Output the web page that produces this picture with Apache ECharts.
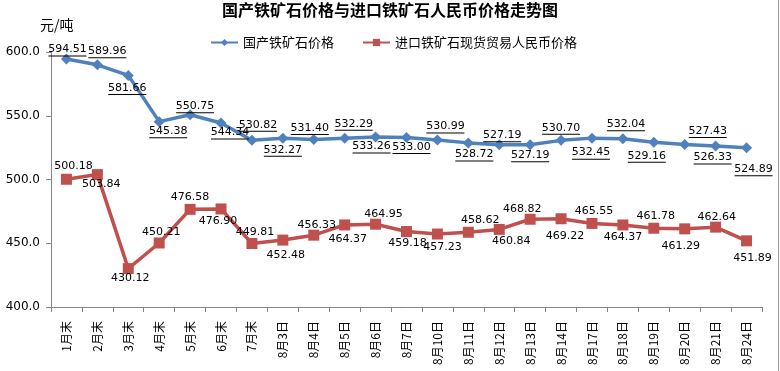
<!DOCTYPE html>
<html><head><meta charset="utf-8">
<script src="https://cdn.jsdelivr.net/npm/echarts@6/dist/echarts.min.js"></script>
<style>html,body{margin:0;padding:0;background:#fff}#c{width:780px;height:371px}</style>
</head><body><div id="c"></div>
<script>
var categories = ['1月末','2月末','3月末','4月末','5月末','6月末','7月末','8月3日','8月4日','8月5日','8月6日','8月7日','8月10日','8月11日','8月12日','8月13日','8月14日','8月17日','8月18日','8月19日','8月20日','8月21日','8月24日'];
var domestic = [594.51,589.96,581.66,545.38,550.75,544.34,530.82,532.27,531.40,532.29,533.26,533.00,530.99,528.72,527.19,527.19,530.70,532.45,532.04,529.16,527.43,526.33,524.89];
var imported = [500.18,503.84,430.12,450.21,476.58,476.90,449.81,452.48,456.33,464.37,464.95,459.18,457.23,458.62,460.84,468.82,469.22,465.55,464.37,461.78,461.29,462.64,451.89];
var yTicks = {min:400, max:600, interval:50};
var seriesNames = ['国产铁矿石价格','进口铁矿石现货贸易人民币价格'];
// data-label offsets (px) from each point, as placed in the reference
var domDx = [1,10,-1,9,5,9,6,0,-4,9,-4,5,8,6,3,0,0,-1,3,-7,23,-3,7];
var domDy = [-9,-13,13,10,-8,10,-15,12,-11,-14,10,10,-13,12,-9,11,-12,15,-14,14,-13,12,22];
var impDx = [7,4,2,2,0,-3,3,3,3,3,8,1,5,12,12,-8,4,2,0,2,-4,1,6];
var impDy = [-13,10,10,-11,-12,12,-11,15,-10,14,-10,12,13,-12,12,-10,17,-12,12,-12,17,-10,17];

function mk(vals, dx, dy){
  return vals.map(function(v,i){
    return {value:v, label:{position:'inside', offset:[dx[i], dy[i]]}};
  });
}
var chart = echarts.init(document.getElementById('c'));
var numFont = 'DejaVu Sans';
var cjk = 'Noto Sans CJK SC';
chart.setOption({
  animation:false,
  title:{text:'国产铁矿石价格与进口铁矿石人民币价格走势图', left:'center', top:-3,
    textStyle:{fontSize:16, fontWeight:'bold', color:'#000', fontFamily:cjk}},
  graphic:[
    {type:'text', left:40, top:18, style:{text:'元/吨', fontSize:14, fill:'#000', fontFamily:cjk}},
    {type:'line', shape:{x1:778.5,y1:0,x2:778.5,y2:371}, style:{stroke:'#999', lineWidth:1}}
  ],
  legend:{top:31, left:205, itemWidth:27, itemHeight:9, itemGap:28,
    lineStyle:{width:2},
    textStyle:{fontSize:13, color:'#000', fontFamily:cjk},
    data:seriesNames},
  grid:{left:51, right:18, top:52, bottom:64},
  xAxis:{type:'category', data:categories, boundaryGap:true,
    axisLine:{lineStyle:{color:'#868686'}},
    axisTick:{show:true, length:5, lineStyle:{color:'#868686'}},
    axisLabel:{rotate:90, fontSize:12, color:'#000', margin:14, interval:0, fontFamily:cjk}},
  yAxis:{type:'value', min:yTicks.min, max:yTicks.max, interval:yTicks.interval,
    splitLine:{show:false},
    axisLine:{show:true, lineStyle:{color:'#868686'}},
    axisTick:{show:true, length:5, lineStyle:{color:'#868686'}},
    axisLabel:{fontSize:12, color:'#000', margin:11, fontFamily:numFont,
      formatter:function(v){return v.toFixed(1);}}},
  series:[
    {name:seriesNames[0], type:'line', data:mk(domestic, domDx, domDy),
      symbol:'diamond', symbolSize:11, z:3,
      lineStyle:{color:'#4F81BD', width:3.5}, itemStyle:{color:'#4F81BD'},
      label:{show:true, color:'#000', align:'center', verticalAlign:'middle',
        formatter:function(p){return '{v|'+p.value.toFixed(2)+'}\n{u| }';},
        rich:{v:{fontSize:11, fontFamily:numFont, color:'#000', lineHeight:12, align:'center'},
              u:{width:38, height:1, lineHeight:1, fontSize:1, backgroundColor:'#000', align:'center'}}}},
    {name:seriesNames[1], type:'line', data:mk(imported, impDx, impDy),
      symbol:'rect', symbolSize:11, z:2,
      lineStyle:{color:'#C0504D', width:3.5}, itemStyle:{color:'#C0504D'},
      label:{show:true, color:'#000', fontSize:11, fontFamily:numFont,
        align:'center', verticalAlign:'middle',
        formatter:function(p){return p.value.toFixed(2);}}}
  ]
});
</script></body></html>
